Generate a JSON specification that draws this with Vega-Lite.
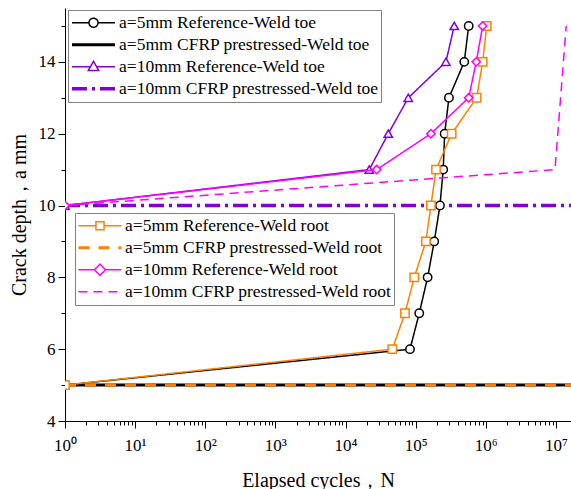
{
  "$schema": "https://vega.github.io/schema/vega-lite/v6.json",
  "width": 506,
  "height": 413,
  "autosize": {"type": "none"},
  "padding": {"left": 65, "top": 8, "right": 0, "bottom": 68},
  "background": "white",
  "config": {
    "view": {"stroke": null},
    "font": "Liberation Serif",
    "axis": {
      "domainColor": "black",
      "tickColor": "black",
      "labelColor": "black",
      "titleColor": "black",
      "labelFont": "Liberation Serif",
      "titleFont": "Liberation Serif",
      "labelFontSize": 17,
      "titleFontSize": 20,
      "titleFontWeight": "normal",
      "grid": false,
      "labelOverlap": false,
      "labelBound": false,
      "labelFlush": false
    },
    "legend": {
      "labelFont": "Liberation Serif",
      "labelFontSize": 17.5,
      "labelColor": "black",
      "labelLimit": 400
    }
  },
  "encoding": {
    "x": {
      "field": "N",
      "type": "quantitative",
      "scale": {"type": "log", "domain": [1, 16400000], "nice": false},
      "axis": {
        "title": "Elapsed cycles，N",
        "titlePadding": 17,
        "labelPadding": 9,
        "values": [1,2,3,4,5,6,7,8,9,10,20,30,40,50,60,70,80,90,100,200,300,400,500,600,700,800,900,1000,2000,3000,4000,5000,6000,7000,8000,9000,10000,20000,30000,40000,50000,60000,70000,80000,90000,100000,200000,300000,400000,500000,600000,700000,800000,900000,1000000,2000000,3000000,4000000,5000000,6000000,7000000,8000000,9000000,10000000],
        "labelExpr": "abs(log(datum.value)/LN10 - round(log(datum.value)/LN10)) < 0.001 ? '10' + ['⁰','¹','²','³','⁴','⁵','⁶','⁷'][round(log(datum.value)/LN10)] : ''",
        "tickSize": {"condition": {"test": "abs(log(datum.value)/LN10 - round(log(datum.value)/LN10)) < 0.001", "value": 7}, "value": 4}
      }
    },
    "y": {
      "field": "a",
      "type": "quantitative",
      "scale": {"domain": [4, 15.5], "nice": false, "zero": false},
      "axis": {
        "title": "Crack depth，a mm",
        "titlePadding": 9,
        "labelPadding": 3,
        "values": [4,5,6,7,8,9,10,11,12,13,14,15],
        "labelExpr": "datum.value % 2 == 0 ? datum.label : ''",
        "tickSize": {"condition": {"test": "datum.value % 2 == 0", "value": 7}, "value": 4}
      }
    }
  },
  "layer": [
    {
      "data": {"values": [
        {"s": "a=5mm Reference-Weld toe", "m": "circle", "N": 1, "a": 5},
        {"s": "a=5mm Reference-Weld toe", "m": "circle", "N": 83000, "a": 6},
        {"s": "a=5mm Reference-Weld toe", "m": "circle", "N": 112500, "a": 7},
        {"s": "a=5mm Reference-Weld toe", "m": "circle", "N": 148000, "a": 8},
        {"s": "a=5mm Reference-Weld toe", "m": "circle", "N": 184000, "a": 9},
        {"s": "a=5mm Reference-Weld toe", "m": "circle", "N": 222000, "a": 10},
        {"s": "a=5mm Reference-Weld toe", "m": "circle", "N": 247000, "a": 11},
        {"s": "a=5mm Reference-Weld toe", "m": "circle", "N": 259000, "a": 12},
        {"s": "a=5mm Reference-Weld toe", "m": "circle", "N": 298000, "a": 13},
        {"s": "a=5mm Reference-Weld toe", "m": "circle", "N": 493000, "a": 14},
        {"s": "a=5mm Reference-Weld toe", "m": "circle", "N": 570000, "a": 15},
        {"s": "a=5mm CFRP prestressed-Weld toe", "m": "none", "N": 1, "a": 5},
        {"s": "a=5mm CFRP prestressed-Weld toe", "m": "none", "N": 16400000, "a": 5},
        {"s": "a=10mm Reference-Weld toe", "m": "triangle", "N": 1, "a": 10},
        {"s": "a=10mm Reference-Weld toe", "m": "triangle", "N": 21800, "a": 11},
        {"s": "a=10mm Reference-Weld toe", "m": "triangle", "N": 40700, "a": 12},
        {"s": "a=10mm Reference-Weld toe", "m": "triangle", "N": 78500, "a": 13},
        {"s": "a=10mm Reference-Weld toe", "m": "triangle", "N": 270000, "a": 14},
        {"s": "a=10mm Reference-Weld toe", "m": "triangle", "N": 355000, "a": 15},
        {"s": "a=10mm CFRP prestressed-Weld toe", "m": "none", "N": 1, "a": 10},
        {"s": "a=10mm CFRP prestressed-Weld toe", "m": "none", "N": 16400000, "a": 10}
      ]},
      "layer": [
        {
          "mark": {"type": "line", "clip": true},
          "encoding": {
            "color": {
              "field": "s", "type": "nominal",
              "scale": {"domain": ["a=5mm Reference-Weld toe", "a=5mm CFRP prestressed-Weld toe", "a=10mm Reference-Weld toe", "a=10mm CFRP prestressed-Weld toe"], "range": ["#000000", "#000000", "#8000D8", "#8000D8"]},
              "legend": {
                "title": null,
                "orient": "none",
                "legendX": 3,
                "legendY": 2,
                "strokeColor": "#808080",
                "fillColor": "white",
                "padding": 2,
                "rowPadding": 0,
                "clipHeight": 21.5,
                "symbolSize": 1849,
                "labelOffset": 2,
                "encoding": {
                  "symbols": {
                    "shape": {"condition": [
                      {"test": "indexof(datum.value, '5mm Reference') >= 0", "value": "M-1,0H-0.21M0.21,0H1M0.21,0A0.21,0.21,0,1,1,-0.21,0A0.21,0.21,0,1,1,0.21,0Z"},
                      {"test": "indexof(datum.value, '10mm Reference') >= 0", "value": "M-1,0H-0.14M0.14,0H1M0,-0.25L0.24,0.17L-0.24,0.17Z"}
                    ], "value": "M-1,0H1"},
                    "fill": {"value": "white"}
                  }
                }
              }
            },
            "strokeDash": {
              "field": "s", "type": "nominal",
              "scale": {"domain": ["a=5mm Reference-Weld toe", "a=5mm CFRP prestressed-Weld toe", "a=10mm Reference-Weld toe", "a=10mm CFRP prestressed-Weld toe"], "range": [[1, 0], [1, 0], [1, 0], [15, 5, 3, 5]]}
            },
            "strokeWidth": {
              "field": "s", "type": "nominal",
              "scale": {"type": "ordinal", "domain": ["a=5mm Reference-Weld toe", "a=5mm CFRP prestressed-Weld toe", "a=10mm Reference-Weld toe", "a=10mm CFRP prestressed-Weld toe"], "range": [1.5, 3, 1.5, 3.5]}
            }
          }
        },
        {
          "transform": [{"filter": "datum.m != 'none'"}],
          "mark": {"type": "point", "filled": false, "fill": "white", "size": 70, "strokeWidth": 1.5, "opacity": 1, "clip": true},
          "encoding": {
            "color": {"field": "s", "type": "nominal"},
            "shape": {
              "field": "m", "type": "nominal",
              "scale": {"domain": ["circle", "triangle"], "range": ["circle", "triangle-up"]},
              "legend": null
            }
          }
        }
      ]
    },
    {
      "data": {"values": [
        {"s": "a=5mm Reference-Weld root", "m": "square", "N": 1, "a": 5},
        {"s": "a=5mm Reference-Weld root", "m": "square", "N": 46400, "a": 6},
        {"s": "a=5mm Reference-Weld root", "m": "square", "N": 70400, "a": 7},
        {"s": "a=5mm Reference-Weld root", "m": "square", "N": 95500, "a": 8},
        {"s": "a=5mm Reference-Weld root", "m": "square", "N": 140000, "a": 9},
        {"s": "a=5mm Reference-Weld root", "m": "square", "N": 165000, "a": 10},
        {"s": "a=5mm Reference-Weld root", "m": "square", "N": 195000, "a": 11},
        {"s": "a=5mm Reference-Weld root", "m": "square", "N": 326000, "a": 12},
        {"s": "a=5mm Reference-Weld root", "m": "square", "N": 741000, "a": 13},
        {"s": "a=5mm Reference-Weld root", "m": "square", "N": 902000, "a": 14},
        {"s": "a=5mm Reference-Weld root", "m": "square", "N": 1030000, "a": 15},
        {"s": "a=5mm CFRP prestressed-Weld root", "m": "none", "N": 1, "a": 5},
        {"s": "a=5mm CFRP prestressed-Weld root", "m": "none", "N": 16400000, "a": 5},
        {"s": "a=10mm Reference-Weld root", "m": "diamond", "N": 1, "a": 10},
        {"s": "a=10mm Reference-Weld root", "m": "diamond", "N": 27800, "a": 11},
        {"s": "a=10mm Reference-Weld root", "m": "diamond", "N": 165000, "a": 12},
        {"s": "a=10mm Reference-Weld root", "m": "diamond", "N": 570000, "a": 13},
        {"s": "a=10mm Reference-Weld root", "m": "diamond", "N": 731000, "a": 14},
        {"s": "a=10mm Reference-Weld root", "m": "diamond", "N": 902000, "a": 15},
        {"s": "a=10mm CFRP prestressed-Weld root", "m": "none", "N": 1, "a": 10},
        {"s": "a=10mm CFRP prestressed-Weld root", "m": "none", "N": 9700000, "a": 11},
        {"s": "a=10mm CFRP prestressed-Weld root", "m": "none", "N": 14000000, "a": 15}
      ]},
      "layer": [
        {
          "mark": {"type": "line", "clip": true},
          "encoding": {
            "color": {
              "field": "s", "type": "nominal",
              "scale": {"domain": ["a=5mm Reference-Weld root", "a=5mm CFRP prestressed-Weld root", "a=10mm Reference-Weld root", "a=10mm CFRP prestressed-Weld root"], "range": ["#FF8000", "#FF8000", "#FF00FF", "#FF00FF"]},
              "legend": {
                "title": null,
                "orient": "none",
                "legendX": 10,
                "legendY": 205,
                "strokeColor": "#808080",
                "fillColor": "white",
                "padding": 2,
                "rowPadding": 0,
                "clipHeight": 21.5,
                "symbolSize": 1849,
                "labelOffset": 2,
                "encoding": {
                  "symbols": {
                    "shape": {"value": {"expr": "indexof(datum.value, '5mm Reference') >= 0 ? 'M-1,0H-0.19M0.19,0H1M-0.19,-0.19H0.19V0.19H-0.19Z' : indexof(datum.value, '10mm Reference') >= 0 ? 'M-1,0H-0.26M0.26,0H1M0,-0.26L0.26,0L0,0.26L-0.26,0Z' : 'M-1,0H1'"}},
                    "fill": {"value": "white"}
                  }
                }
              }
            },
            "strokeDash": {
              "field": "s", "type": "nominal",
              "scale": {"domain": ["a=5mm Reference-Weld root", "a=5mm CFRP prestressed-Weld root", "a=10mm Reference-Weld root", "a=10mm CFRP prestressed-Weld root"], "range": [[1, 0], [11, 9], [1, 0], [9, 6]]}
            },
            "strokeWidth": {
              "field": "s", "type": "nominal",
              "scale": {"type": "ordinal", "domain": ["a=5mm Reference-Weld root", "a=5mm CFRP prestressed-Weld root", "a=10mm Reference-Weld root", "a=10mm CFRP prestressed-Weld root"], "range": [1.5, 3, 1.5, 1.5]}
            }
          }
        },
        {
          "transform": [{"filter": "datum.m != 'none'"}],
          "mark": {"type": "point", "filled": false, "fill": "white", "size": 70, "strokeWidth": 1.5, "opacity": 1, "clip": true},
          "encoding": {
            "color": {"field": "s", "type": "nominal"},
            "shape": {
              "field": "m", "type": "nominal",
              "scale": {"domain": ["square", "diamond"], "range": ["square", "diamond"]},
              "legend": null
            }
          }
        }
      ]
    }
  ],
  "resolve": {"scale": {"color": "independent", "strokeDash": "independent", "strokeWidth": "independent", "shape": "independent"}}
}
